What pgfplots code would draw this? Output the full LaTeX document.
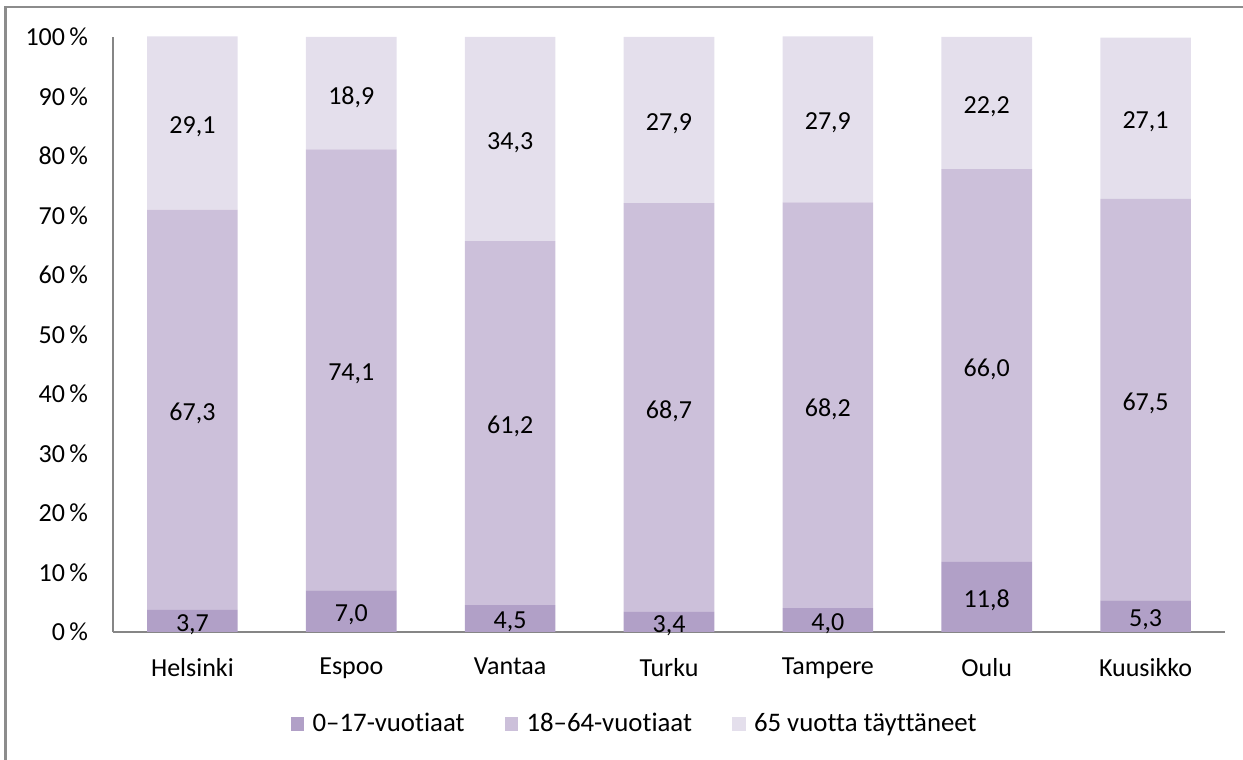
\documentclass[border=0pt]{standalone}
\usepackage{pgfplots}
\pgfplotsset{compat=1.18}
\usepackage{pgfplotstable}
\usepackage{fontspec}
\setmainfont[Ligatures={NoCommon}]{Carlito}
\definecolor{cA}{HTML}{B1A0C7}
\definecolor{cB}{HTML}{CCC0DA}
\definecolor{cC}{HTML}{E4DFEC}
\definecolor{axgray}{HTML}{868686}
\definecolor{framegray}{HTML}{8C8C8C}
\pgfplotstableread{
x lo mid hi
0 3.7 67.3 29.1
1 7.0 74.1 18.9
2 4.5 61.2 34.3
3 3.4 68.7 27.9
4 4.0 68.2 27.9
5 11.8 66.0 22.2
6 5.3 67.5 27.1
}\data
\pgfplotsset{
  common/.style={
    at={(56.5bp,64bp)}, anchor=south west,
    scale only axis, width=556bp, height=297.5bp,
    xmin=-0.5, xmax=6.5, ymin=0, ymax=100,
  },
  lab/.style={only marks, mark=none,
    visualization depends on={#1\as\h},
    nodes near coords={\pgfmathprintnumber[fixed, fixed zerofill, precision=1, use comma, assume math mode=true]{\h}},
    every node near coord/.append style={anchor=center, yshift=-1.8bp, font=\fontsize{13bp}{15bp}\selectfont, text=black},
  },
}
\begin{document}
\begin{tikzpicture}
\path[use as bounding box] (0,0) rectangle (621.5bp,380bp);
\draw[framegray, line width=1.3bp] (2.75bp,0) -- (2.75bp,376.5bp) -- (621.5bp,376.5bp);
\begin{axis}[
  common,
  ybar stacked, bar width=45.3bp,
  axis x line*=bottom, axis y line*=left,
  axis line style={axgray, line width=0.6bp},
  major tick length=0pt,
  xtick={0,...,6},
  xticklabels={Helsinki,Espoo,Vantaa,Turku,Tampere,Oulu,Kuusikko},
  ytick={0,10,...,100},
  yticklabel={\pgfmathprintnumber[assume math mode=true]{\tick}\,\%},
  ticklabel style={font=\fontsize{13bp}{15bp}\selectfont, text=black},
  xticklabel style={yshift=-9.5bp},
  yticklabel style={xshift=-9bp},
  legend style={at={(0.47,-0.155)}, anchor=center, draw=none, fill=none, legend columns=-1,
    font=\fontsize{13.4bp}{15bp}\selectfont, /tikz/every even column/.append style={column sep=18bp}},
  legend image code/.code={\fill[#1] (0bp,-3.4bp) rectangle (6.8bp,3.4bp); \path (9bp,0bp);},
]
\addplot[fill=cA, draw=none] table[x=x, y=lo] {\data};
\addplot[fill=cB, draw=none] table[x=x, y=mid] {\data};
\addplot[fill=cC, draw=none] table[x=x, y=hi] {\data};
\legend{0–17-vuotiaat, 18–64-vuotiaat, 65 vuotta täyttäneet}
\end{axis}
\begin{axis}[common, axis lines=none, clip=false]
\addplot[lab={\thisrow{lo}}] table[x=x, y expr={\thisrow{lo}/2}] {\data};
\addplot[lab={\thisrow{mid}}] table[x=x, y expr={\thisrow{lo}+\thisrow{mid}/2}] {\data};
\addplot[lab={\thisrow{hi}}] table[x=x, y expr={\thisrow{lo}+\thisrow{mid}+\thisrow{hi}/2}] {\data};
\end{axis}
\end{tikzpicture}
\end{document}
